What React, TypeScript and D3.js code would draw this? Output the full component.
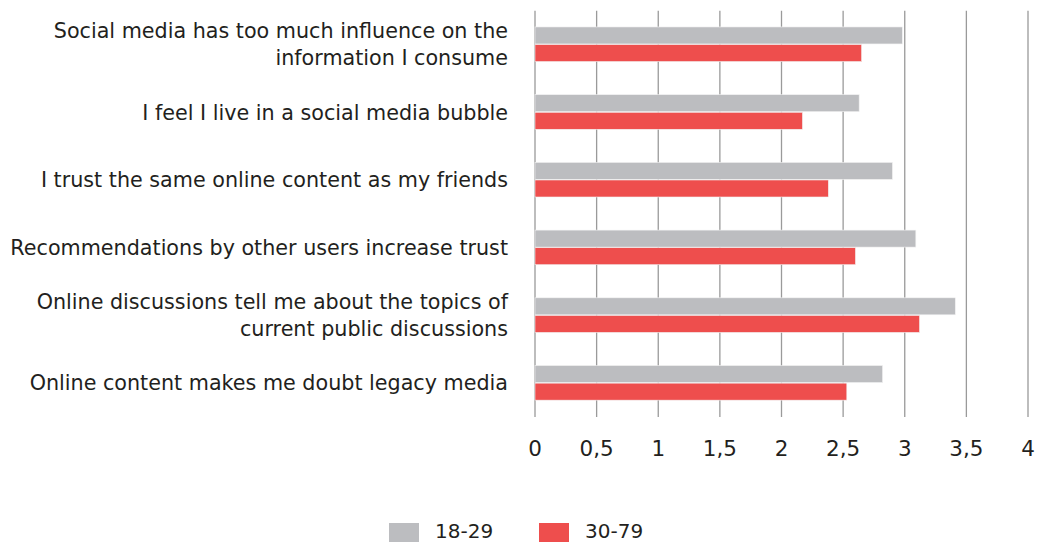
import React from "react";
import * as d3 from "d3";

const categories: string[][] = [
  ["Social media has too much influence on the", "information I consume"],
  ["I feel I live in a social media bubble"],
  ["I trust the same online content as my friends"],
  ["Recommendations by other users increase trust"],
  ["Online discussions tell me about the topics of", "current public discussions"],
  ["Online content makes me doubt legacy media"],
];
const series1829: number[] = [2.98, 2.63, 2.9, 3.09, 3.41, 2.82];
const series3079: number[] = [2.65, 2.17, 2.38, 2.6, 3.12, 2.53];
const seriesNames: string[] = ["18-29", "30-79"];
const seriesColors: string[] = ["#BCBDC0", "#EE4E4D"];
const xTicks: number[] = [0, 0.5, 1, 1.5, 2, 2.5, 3, 3.5, 4];

const W = 1058;
const H = 543;
const FONT = "'DejaVu Sans', sans-serif";

export default function App() {
  const x = d3.scaleLinear().domain([0, 4]).range([535, 1028]);
  const idx = categories.map((_, i) => String(i));
  const y = d3.scaleBand().domain(idx).range([10.7, 417]).paddingInner(0.48).paddingOuter(0.24);
  const sub = d3.scaleBand().domain(seriesNames).range([0, y.bandwidth()]).padding(0);
  const data = [series1829, series3079];
  const fmt = (v: number) => String(v).replace(".", ",");
  const lineH = 27;

  return (
    <div style={{ position: "fixed", left: 0, top: 0 }}>
      <svg width={W} height={H} style={{ display: "block", fontFamily: FONT }}>
        <rect width={W} height={H} fill="#fff" />
        {xTicks.map((t) => (
          <line key={"g" + t} x1={x(t)} x2={x(t)} y1={10.7} y2={417} stroke="#9a9a9a" strokeWidth={1.3} />
        ))}
        {categories.map((c, i) =>
          data.map((s, k) => (
            <rect
              key={i + "-" + k}
              x={x(0)}
              y={(y(String(i)) as number) + (sub(seriesNames[k]) as number)}
              width={x(s[i]) - x(0)}
              height={sub.bandwidth() - 0.6}
              fill={seriesColors[k]}
              stroke="#f2f2f2"
              strokeWidth={0.6}
            />
          ))
        )}
        {categories.map((c, i) => {
          const cy = (y(String(i)) as number) + y.bandwidth() / 2;
          const y0 = cy - ((c.length - 1) * lineH) / 2;
          return (
            <text key={"c" + i} textAnchor="end" fontSize={20.7} fill="#231f20">
              {c.map((line, j) => (
                <tspan key={j} x={508} y={y0 + j * lineH} dy="0.35em">
                  {line}
                </tspan>
              ))}
            </text>
          );
        })}
        {xTicks.map((t) => (
          <text key={"t" + t} x={x(t)} y={448} dy="0.35em" textAnchor="middle" fontSize={21.5} fill="#231f20">
            {fmt(t)}
          </text>
        ))}
        {seriesNames.map((n, k) => {
          const lx = [389, 539][k];
          return (
            <g key={"l" + k}>
              <rect x={lx} y={523} width={30} height={19} fill={seriesColors[k]} />
              <text x={lx + 46} y={531} dy="0.35em" fontSize={20} fill="#231f20">
                {n}
              </text>
            </g>
          );
        })}
      </svg>
    </div>
  );
}
